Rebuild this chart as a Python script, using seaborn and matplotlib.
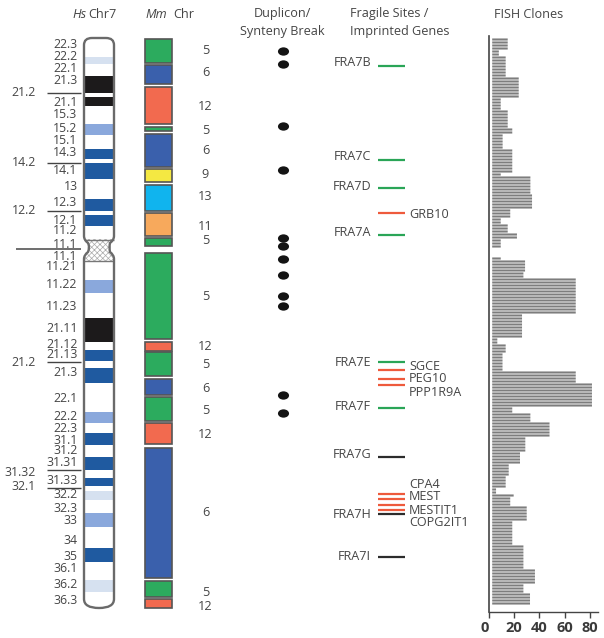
from matplotlib.patches import PathPatch, Rectangle
from matplotlib.path import Path
from matplotlib.transforms import Affine2D, ScaledTranslation
import matplotlib.pyplot as plt
import numpy as np
import pandas as pd
import seaborn as sns

# all track positions are in rows of the picture, top of 7p = 38, bottom of 7q = 607
BLUE = '#1f5aa0'
LIGHT = '#8aa8dc'
PALE = '#d6e1f0'
BLACK = '#1c1a1b'

band_top = [57, 76, 97, 124, 149, 163, 199, 215, 280, 318, 350, 368, 412, 433, 457, 478, 491, 513, 548, 580]
band_bottom = [64, 93, 106, 135, 159, 179, 211, 226, 293, 342, 361, 383, 423, 445, 470, 486, 500, 527, 562, 592]
band_color = [PALE, BLACK, BLACK, LIGHT, BLUE, BLUE, BLUE, BLUE, LIGHT, BLACK, BLUE, BLUE,
              LIGHT, BLUE, BLUE, BLUE, PALE, LIGHT, BLUE, PALE]

cyto_labels = ['22.3', '22.2', '22.1', '21.3', '21.1', '15.3', '15.2', '15.1', '14.3', '14.1', '13', '12.3',
               '12.1', '11.2', '11.1', '11.1', '11.21', '11.22', '11.23', '21.11', '21.12', '21.13', '21.3',
               '22.1', '22.2', '22.3', '31.1', '31.2', '31.31', '31.33', '32.2', '32.3', '33', '34', '35',
               '36.1', '36.2', '36.3']
cyto_pos = [45, 56, 68, 81, 102, 115, 129, 140, 153, 171, 187, 202, 220, 231, 244, 257, 267, 284, 306, 328,
            344, 354, 373, 399, 417, 428, 440, 451, 463, 481, 495, 508, 521, 540, 556, 569, 585, 601]
outer_labels = ['21.2', '14.2', '12.2', '21.2', '31.32', '32.1']
outer_pos = [93, 162, 210, 363, 472, 487]
outer_lines = [92.5, 162.5, 211, 362, 470, 488]
centromere_line = 248.7

GREEN = '#2cab5e'
MBLUE = '#3a60ac'
RED = '#f26a4f'
YELLOW = '#f4e842'
CYAN = '#10b4ee'
ORANGE = '#f7a95c'

mm_top = [39, 65, 87, 127, 134, 169, 185, 213, 238, 253, 342, 352, 379, 397, 423, 448, 581, 599]
mm_bottom = [63, 84, 124, 131, 167, 182, 211, 236, 246, 339, 351, 376, 395, 421, 444, 578, 597, 608]
mm_color = [GREEN, MBLUE, RED, GREEN, MBLUE, YELLOW, CYAN, ORANGE, GREEN, GREEN, RED, GREEN, MBLUE, GREEN,
            RED, MBLUE, GREEN, RED]
mm_chr = ['5', '6', '12', '5', '6', '9', '13', '11', '5', '5', '12', '5', '6', '5', '12', '6', '5', '12']
mm_label_pos = [50, 72, 106, 130, 151, 175, 197, 227, 241, 296, 347, 364, 388, 410, 435, 513, 592, 607]

duplicon_pos = [51, 64, 126, 170, 238, 246, 259, 275, 296, 306, 395, 413]

fragile_names = ['FRA7B', 'FRA7C', 'FRA7D', 'FRA7A', 'FRA7E', 'FRA7F', 'FRA7G', 'FRA7H', 'FRA7I']
fragile_label_pos = [63, 157, 187, 233, 362, 407, 455, 515, 557]
green_lines = [65.7, 160, 188, 234.7, 362, 408]
red_lines = [213, 370, 379, 385, 494, 499, 505, 510]
black_lines = [457, 514, 557]
gene_names = ['GRB10', 'SGCE', 'PEG10', 'PPP1R9A', 'CPA4', 'MEST', 'MESTIT1', 'COPG2IT1']
gene_pos = [214, 367, 379, 392, 485, 497, 510, 523]

# FISH clone counts, one value per stretch of the chromosome
clone_end = [49, 55, 76, 98, 109, 128, 133, 149, 172, 176, 194, 208, 217, 223, 232, 240, 247, 258, 261, 272,
             277, 315, 339, 345, 353, 371, 384, 408, 412, 421, 436, 451, 465, 477, 487, 494, 497, 506, 520,
             545, 568, 585, 594, 606]
clone_count = [15, 8, 13.4, 23.7, 9.5, 15, 18.6, 11, 18.6, 9.5, 32.9, 34.2, 17, 9.5, 15, 22.3, 9.5, 0, 9.5,
               28.7, 27.4, 68.7, 26.3, 6.8, 13.4, 10.9, 68.7, 81.5, 18.6, 32.9, 48, 28.9, 24.7, 15.8, 13.4,
               5.8, 19.7, 17, 30, 18.6, 27.4, 36.5, 27.4, 32.6]
fish_ticks = [0, 20, 40, 60, 80]

W, H = 604, 638
TEXT = '#454545'
FS = 9.1

sns.set_style('white')
plt.rcParams['font.family'] = ['Open Sans', 'DejaVu Sans']
plt.rcParams['hatch.linewidth'] = 0.5

fig = plt.figure(figsize=(W / 100, H / 100), dpi=100)
ax = fig.add_axes([0, 0, 1, 1])
ax.set_xlim(0, W)
ax.set_ylim(H, 0)
ax.axis('off')

# ideogram outline
verts = [(84, 45), (84, 38), (92, 38), (106, 38), (114, 38), (114, 45), (114, 236), (114, 240), (110, 243),
         (109, 247), (110, 252), (114, 255), (114, 259), (114, 599), (114, 608), (99, 608), (84, 608), (84, 599),
         (84, 259), (84, 255), (88, 252), (90, 247), (88, 243), (84, 240), (84, 236), (84, 45)]
codes = [Path.MOVETO, Path.CURVE3, Path.CURVE3, Path.LINETO, Path.CURVE3, Path.CURVE3, Path.LINETO,
         Path.CURVE3, Path.CURVE3, Path.CURVE3, Path.CURVE3, Path.CURVE3, Path.CURVE3, Path.LINETO,
         Path.CURVE3, Path.CURVE3, Path.CURVE3, Path.CURVE3, Path.LINETO, Path.CURVE3, Path.CURVE3,
         Path.CURVE3, Path.CURVE3, Path.CURVE3, Path.CURVE3, Path.CLOSEPOLY]
chrom_path = Path(verts, codes)
ax.add_patch(PathPatch(chrom_path, facecolor='white', edgecolor='none', zorder=1))
clip = PathPatch(chrom_path, transform=ax.transData, facecolor='none', edgecolor='none')
ax.add_patch(clip)

bars = ax.bar([99] * len(band_top), np.array(band_bottom) - np.array(band_top), bottom=band_top, width=32,
              color=band_color, linewidth=0, zorder=2)
for b in bars:
    b.set_clip_path(clip)
cen = Rectangle((82, 239), 34, 22, facecolor='white', edgecolor='#a9a9a9', hatch='xxxxxx', linewidth=0, zorder=2)
ax.add_patch(cen)
cen.set_clip_path(clip)
ax.hlines([240, 261], 84, 114, color='#777777', lw=1, zorder=3)
ax.add_patch(PathPatch(chrom_path, facecolor='none', edgecolor='#6a6a6a', lw=1.7, zorder=4))

for label, y in zip(cyto_labels, cyto_pos):
    ax.text(77.5, y, label, ha='right', va='center', fontsize=8.8, color=TEXT)
for label, y in zip(outer_labels, outer_pos):
    ax.text(36, y, label, ha='right', va='center', fontsize=8.8, color=TEXT)
ax.hlines(outer_lines, 47, 81, color='#444444', lw=1)
ax.hlines(centromere_line, 16, 81, color='#555555', lw=1.2)

# mouse synteny blocks
ax.bar([158] * len(mm_top), np.array(mm_bottom) - np.array(mm_top), bottom=mm_top, width=27, color=mm_color,
       edgecolor='#555555', linewidth=1.2)
for label, y in zip(mm_chr, mm_label_pos):
    ax.text(205.5, y, label, ha='center', va='center', fontsize=FS, color=TEXT)

# duplicon dots
ellipse = Path.unit_circle().transformed(Affine2D().scale(1, 0.75))
sns.scatterplot(x=[283] * len(duplicon_pos), y=duplicon_pos, ax=ax, color='#141414', s=64, marker=ellipse,
                linewidth=0, legend=False)

# fragile sites and imprinted genes
ax.hlines(green_lines, 378, 405, color='#2aa557', lw=1.6)
ax.hlines(red_lines, 378, 405, color='#ee5a3c', lw=1.6)
ax.hlines(black_lines, 378, 405, color='#2c2c2c', lw=1.6)
for label, y in zip(fragile_names, fragile_label_pos):
    ax.text(371, y, label, ha='right', va='center', fontsize=FS, color=TEXT)
for label, y in zip(gene_names, gene_pos):
    ax.text(409, y, label, ha='left', va='center', fontsize=FS, color=TEXT)

# headers
ax.text(72, 14, 'Hs', style='italic', ha='left', va='center', fontsize=FS, color=TEXT)
ax.text(88, 14, 'Chr7', ha='left', va='center', fontsize=FS, color=TEXT)
ax.text(145, 14, 'Mm', style='italic', ha='left', va='center', fontsize=FS, color=TEXT)
ax.text(173, 14, 'Chr', ha='left', va='center', fontsize=FS, color=TEXT)
ax.text(282, 14, 'Duplicon/', ha='center', va='center', fontsize=FS, color=TEXT)
ax.text(282, 32, 'Synteny Break', ha='center', va='center', fontsize=FS, color=TEXT)
ax.text(350, 14, 'Fragile Sites /', ha='left', va='center', fontsize=FS, color=TEXT)
ax.text(350, 32, 'Imprinted Genes', ha='left', va='center', fontsize=FS, color=TEXT)
ax.text(494, 14, 'FISH Clones', ha='left', va='center', fontsize=FS, color=TEXT)

# FISH clones panel, same rows as the tracks on the left
rows = np.arange(39.5, 606, 3)
fish = pd.DataFrame({'row': rows})
fish['clones'] = np.array(clone_count)[np.searchsorted(clone_end, rows)]
fish = fish[fish['clones'] > 0]

left, right, top, bottom = 488.7, 598, 36, 612
ax2 = fig.add_axes([left / W, 1 - bottom / H, (right - left) / W, (bottom - top) / H])
ax2.patch.set_alpha(0)
sns.barplot(data=fish, x='clones', y='row', orient='y', native_scale=True, ax=ax2, color='#7d7d7d', saturation=1,
            width=0.7, errorbar=None, linewidth=0)
# without this the thin bars get rounded to whole pixels and merge
for p in ax2.patches:
    p.set_snap(False)
ax2.axvspan(0, 2, color='white', zorder=2)
ax2.set_xlim(0, (right - left) / 1.267)
ax2.set_ylim(bottom, top)
ax2.set_xlabel('')
ax2.set_ylabel('')
ax2.set_yticks([])
ax2.set_xticks(fish_ticks)
ax2.tick_params(axis='x', bottom=True, length=4, width=1, color='#444444', pad=2.5)
ax2.set_xticklabels(fish_ticks, fontsize=10.5, fontweight='bold', color='#3a3a3a')
ax2.get_xticklabels()[0].set_transform(ax2.get_xticklabels()[0].get_transform() +
                                       ScaledTranslation(-4.5 / 100, 0, fig.dpi_scale_trans))
for side in ['top', 'right']:
    ax2.spines[side].set_visible(False)
for side in ['left', 'bottom']:
    ax2.spines[side].set_color('#444444')
    ax2.spines[side].set_linewidth(1)
ax2.spines['left'].set_linewidth(1.2)

fig.savefig('out.png', dpi=100)
